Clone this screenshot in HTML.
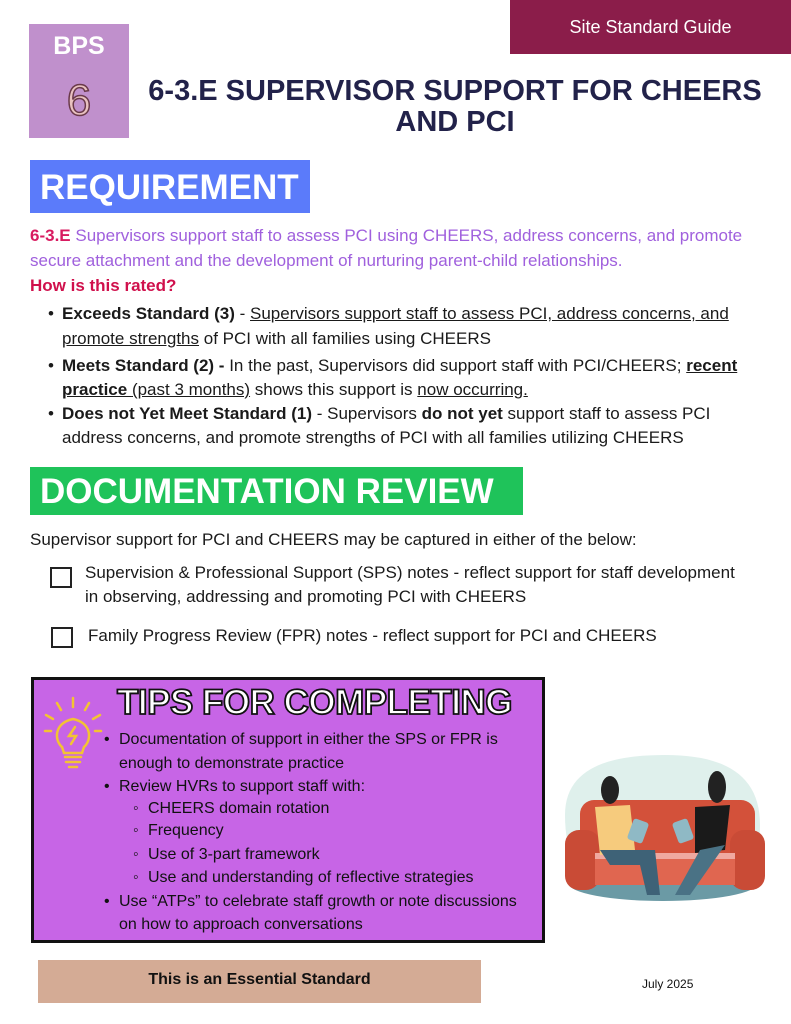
<!DOCTYPE html>
<html><head><meta charset="utf-8"><style>
*{margin:0;padding:0;box-sizing:border-box}
body{width:791px;height:1024px;position:relative;background:#fff;font-family:"Liberation Sans",sans-serif;color:#1a1a1a;overflow:hidden}
.a{position:absolute;white-space:nowrap}
.t{font-size:17px;line-height:20px}
u{text-decoration:underline}
.hdr{font-weight:bold;color:#fff;font-size:35px;letter-spacing:0px}
.tw{color:#111;font-size:16px}
</style></head><body>
<div class="a" style="left:510px;top:0;width:281px;height:54px;background:#8b1d4a;color:#fff;font-size:18px;line-height:54px;text-align:center">Site Standard Guide</div>
<div class="a" style="left:29px;top:24px;width:100px;height:114px;background:#c090cc"></div>
<div class="a" style="left:29px;top:32px;width:100px;text-align:center;color:#fff;font-weight:bold;font-size:25px">BPS</div>
<div class="a" style="left:29px;top:76px;width:100px;text-align:center;color:#e9c2c0;font-size:44px;-webkit-text-stroke:1.5px #6a3a4a">6</div>
<div class="a" style="left:140px;top:76px;width:630px;text-align:center;color:#22224a;font-weight:bold;font-size:29px;line-height:31px;white-space:normal">6-3.E SUPERVISOR SUPPORT FOR CHEERS<br>AND PCI</div>
<div class="a hdr" style="left:30px;top:160px;width:280px;height:53px;background:#5b7bfa;line-height:55px;padding-left:10px">REQUIREMENT</div>
<div class="a t" style="left:30px;top:226px;color:#a060dd"><b style="color:#d81b60">6-3.E</b> Supervisors support staff to assess PCI using CHEERS, address concerns, and promote</div>
<div class="a t" style="left:30px;top:251px;color:#a060dd">secure attachment and the development of nurturing parent-child relationships.</div>
<div class="a t" style="left:30px;top:276px;color:#d0104c;font-weight:bold">How is this rated?</div>
<div class="a t" style="left:48px;top:304px">•</div>
<div class="a t" style="left:62px;top:304px"><b>Exceeds Standard (3)</b> - <u>Supervisors support staff to assess PCI, address concerns, and</u></div>
<div class="a t" style="left:62px;top:329px"><u>promote strengths</u> of PCI with all families using CHEERS</div>
<div class="a t" style="left:48px;top:356px">•</div>
<div class="a t" style="left:62px;top:356px"><b>Meets Standard (2) -</b> In the past, Supervisors did support staff with PCI/CHEERS; <b><u>recent</u></b></div>
<div class="a t" style="left:62px;top:380px"><b><u>practice </u></b><u>(past 3 months)</u> shows this support is <u>now occurring.</u></div>
<div class="a t" style="left:48px;top:404px">•</div>
<div class="a t" style="left:62px;top:404px"><b>Does not Yet Meet Standard (1)</b> - Supervisors <b>do not yet</b> support staff to assess PCI</div>
<div class="a t" style="left:62px;top:428px">address concerns, and promote strengths of PCI with all families utilizing CHEERS</div>
<div class="a hdr" style="left:30px;top:467px;width:493px;height:48px;background:#1fc35a;line-height:50px;padding-left:10px">DOCUMENTATION REVIEW</div>
<div class="a t" style="left:30px;top:530px">Supervisor support for PCI and CHEERS may be captured in either of the below:</div>
<div class="a" style="left:50px;top:567px;width:22px;height:21px;border:2px solid #222"></div>
<div class="a t" style="left:85px;top:563px">Supervision &amp; Professional Support (SPS) notes - reflect support for staff development</div>
<div class="a t" style="left:85px;top:587px">in observing, addressing and promoting PCI with CHEERS</div>
<div class="a" style="left:51px;top:627px;width:22px;height:21px;border:2px solid #222"></div>
<div class="a t" style="left:88px;top:626px">Family Progress Review (FPR) notes - reflect support for PCI and CHEERS</div>
<div class="a" style="left:31px;top:677px;width:514px;height:266px;background:#c765e6;border:3px solid #111"></div>
<div class="a" style="left:117px;top:683px;color:#fff;font-weight:900;font-size:35px;letter-spacing:-0.5px;-webkit-text-stroke:1.8px #111">TIPS FOR COMPLETING</div>
<svg class="a" style="left:42px;top:695px" width="62" height="75" viewBox="0 0 62 75" fill="none" stroke="#f3c333" stroke-width="2.5" stroke-linecap="round">
<line x1="31" y1="3" x2="31" y2="12"/><line x1="15" y1="8" x2="19" y2="15"/><line x1="47" y1="8" x2="43" y2="15"/><line x1="4" y1="20" x2="11" y2="24"/><line x1="58" y1="20" x2="51" y2="24"/><line x1="3" y1="36" x2="9" y2="36"/><line x1="53" y1="36" x2="59" y2="36"/>
<path d="M20 52 C12 45 12 28 31 24 C50 28 50 45 42 52 L40 58 L22 58 Z"/><path d="M33 32 L27 41 L34 41 L29 49"/><line x1="23" y1="62" x2="39" y2="62"/><line x1="24" y1="67" x2="38" y2="67"/><line x1="27" y1="72" x2="35" y2="72"/></svg>
<div class="a tw" style="left:104px;top:731px">•</div><div class="a tw" style="left:119px;top:731px">Documentation of support in either the SPS or FPR is</div>
<div class="a tw" style="left:119px;top:755px">enough to demonstrate practice</div>
<div class="a tw" style="left:104px;top:778px">•</div><div class="a tw" style="left:119px;top:778px">Review HVRs to support staff with:</div>
<div class="a tw" style="left:133px;top:800px">◦</div><div class="a tw" style="left:148px;top:800px">CHEERS domain rotation</div>
<div class="a tw" style="left:133px;top:822px">◦</div><div class="a tw" style="left:148px;top:822px">Frequency</div>
<div class="a tw" style="left:133px;top:846px">◦</div><div class="a tw" style="left:148px;top:846px">Use of 3-part framework</div>
<div class="a tw" style="left:133px;top:869px">◦</div><div class="a tw" style="left:148px;top:869px">Use and understanding of reflective strategies</div>
<div class="a tw" style="left:104px;top:893px">•</div><div class="a tw" style="left:119px;top:893px">Use “ATPs” to celebrate staff growth or note discussions</div>
<div class="a tw" style="left:119px;top:916px">on how to approach conversations</div>
<svg class="a" style="left:555px;top:755px" width="215" height="150" viewBox="0 0 215 150">
<path d="M10 60 C10 10 60 0 110 0 C170 0 205 20 205 70 C205 120 180 145 110 145 C40 145 10 120 10 60Z" fill="#dff0ec"/>
<ellipse cx="108" cy="128" rx="95" ry="18" fill="#6b9aa5"/>
<rect x="25" y="45" width="175" height="55" rx="14" fill="#d3513a"/>
<rect x="10" y="75" width="35" height="60" rx="14" fill="#c94b36"/>
<rect x="175" y="75" width="35" height="60" rx="14" fill="#c94b36"/>
<rect x="40" y="100" width="140" height="30" fill="#e06650"/>
<rect x="40" y="98" width="140" height="6" fill="#f0a9a0"/>
<ellipse cx="55" cy="35" rx="9" ry="14" fill="#222"/>
<path d="M40 52 L75 50 L80 95 L45 100Z" fill="#f6cb7d"/>
<path d="M45 95 L100 95 L105 140 L92 140 L85 110 L55 110Z" fill="#3e6277"/>
<path d="M140 52 L175 50 L170 95 L140 98Z" fill="#1a1a1a"/>
<ellipse cx="162" cy="32" rx="9" ry="16" fill="#222"/>
<path d="M145 95 L170 90 L135 140 L120 140Z" fill="#4a7285"/>
<rect x="75" y="65" width="16" height="22" rx="3" fill="#8fb9c5" transform="rotate(20 83 76)"/>
<rect x="120" y="65" width="16" height="22" rx="3" fill="#8fb9c5" transform="rotate(-20 128 76)"/>
</svg>
<div class="a" style="left:38px;top:960px;width:443px;height:43px;background:#d4ab95;text-align:center;line-height:40px;font-weight:bold;font-size:16px;color:#111">This is an Essential Standard</div>
<div class="a" style="left:642px;top:977px;font-size:12px;color:#111">July 2025</div>
</body></html>
